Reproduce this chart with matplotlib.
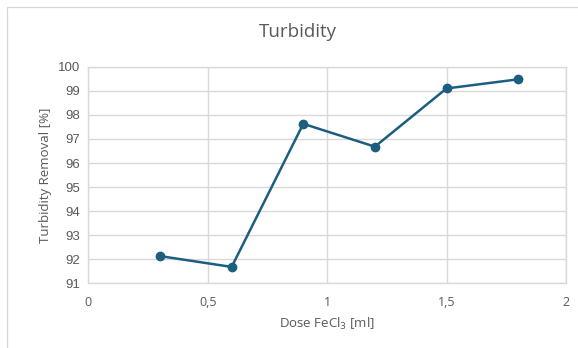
import matplotlib
matplotlib.use("Agg")
import matplotlib.pyplot as plt
from matplotlib.patches import Rectangle
from matplotlib.ticker import FuncFormatter

# FeCl3 dose vs. turbidity removal
dose = [0.3, 0.6, 0.9, 1.2, 1.5, 1.8]
removal = [92.13, 91.68, 97.63, 96.68, 99.1, 99.48]

x_ticks = [0, 0.5, 1, 1.5, 2]
y_ticks = [91, 92, 93, 94, 95, 96, 97, 98, 99, 100]

text_col = "#595959"
grid_col = "#d9d9d9"
line_col = "#1b5e80"

plt.rcParams['font.family'] = ['Open Sans', 'DejaVu Sans']

fig = plt.figure(figsize=(5.78, 3.48), dpi=100)
ax = fig.add_axes([0.153, 0.186, 0.826, 0.622])

# light chart border (left and top edges only are inside the image)
fig.patches.append(Rectangle((7.4 / 578, -0.5), 2.0, 0.5 + 1 - 6.7 / 348,
                             transform=fig.transFigure, fill=False,
                             edgecolor="#d6d6d6", linewidth=0.9))

ax.plot(dose, removal, color=line_col, linewidth=1.8, marker="o",
        markersize=6, zorder=3)

ax.set_xlim(0, 2)
ax.set_ylim(91, 100)
ax.set_xticks(x_ticks)
ax.set_yticks(y_ticks)
ax.xaxis.set_major_formatter(FuncFormatter(lambda v, p: f"{v:g}".replace(".", ",")))
ax.grid(True, color=grid_col, linewidth=1.0)
ax.set_axisbelow(True)
for s in ax.spines.values():
    s.set_color(grid_col)
    s.set_linewidth(1.0)
ax.tick_params(length=0, colors=text_col, labelsize=9)
ax.tick_params(axis="x", pad=9)
ax.tick_params(axis="y", pad=6)
for lbl in ax.get_yticklabels():
    lbl.set_family(['Liberation Sans', 'DejaVu Sans'])
    lbl.set_fontsize(9.5)

ax.set_xlabel("Dose FeCl$_3$ [ml]", color=text_col, fontsize=9.5, labelpad=5)
ax.set_ylabel("Turbidity Removal [%]", color=text_col, fontsize=9.5, labelpad=4)
fig.text(298 / 578, 1 - 32 / 348, "Turbidity", ha="center", va="center",
         color=text_col, fontsize=13.5)

fig.savefig("out.png", dpi=100)
